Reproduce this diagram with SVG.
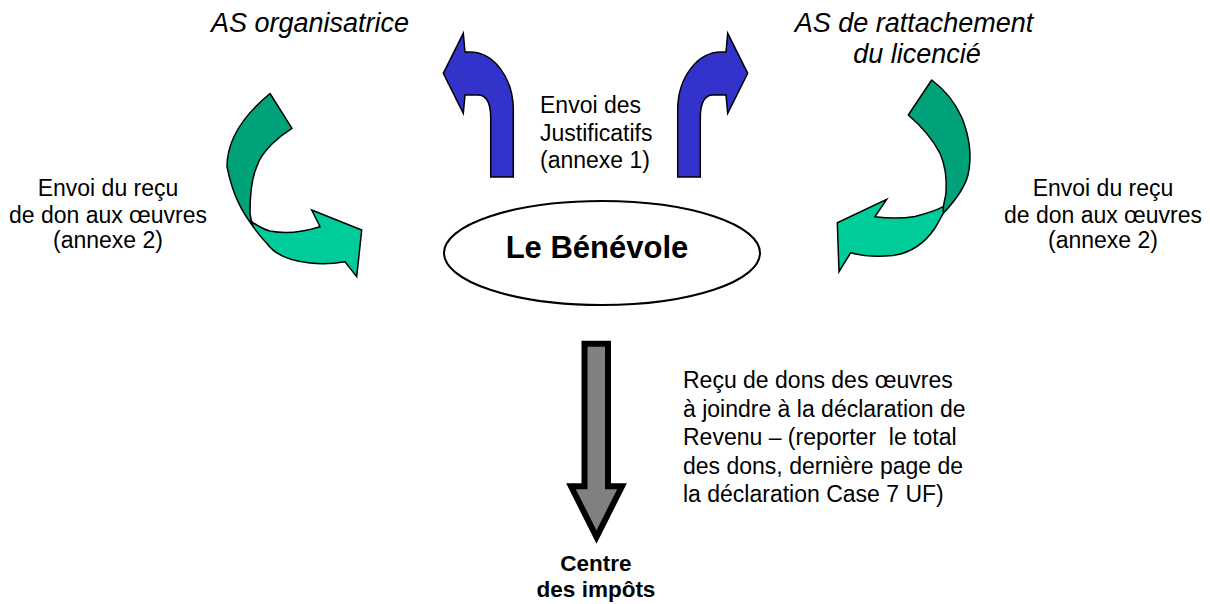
<svg xmlns="http://www.w3.org/2000/svg" width="1210" height="604" viewBox="0 0 1210 604">
<style>
.t{font-family:"Liberation Sans",Arial,sans-serif;font-size:23px;fill:#000}
.it{font-family:"Liberation Sans",Arial,sans-serif;font-size:27px;font-style:italic;fill:#000}
.b{font-family:"Liberation Sans",Arial,sans-serif;font-weight:bold;fill:#000}
.blue{fill:#3333cc;stroke:#000;stroke-width:1.5;stroke-linejoin:miter}
.g1{fill:#00a27a;stroke:#000;stroke-width:1.5;stroke-linejoin:round}
.g2{fill:#00cc99;stroke:#000;stroke-width:1.5;stroke-linejoin:miter}
</style>
<rect width="1210" height="604" fill="#fff"/>
<g id="connectors">
  <path id="blue-left" class="blue" d="M513.3,177 L513.3,110 C513.3,77 493,52 470,52 L465,52 L463.3,33.3 L443.3,73.3 L463.3,113.3 L465,95 L478,95 C486,95 490.7,103 490.7,118 L490.7,177 Z"/>
  <path id="blue-right" class="blue" transform="translate(1191,0) scale(-1,1)" d="M513.3,177 L513.3,110 C513.3,77 493,52 470,52 L465,52 L463.3,33.3 L443.3,73.3 L463.3,113.3 L465,95 L478,95 C486,95 490.7,103 490.7,118 L490.7,177 Z"/>
  <g id="green-left">
    <path class="g1" d="M270,93.5 L292,128.3 C281,135 262,150 256.7,166.7 C251,180 250,195 250,213.3 L251.7,222.5 L253.3,226.7 C243,213 233,197 227,166.7 C227,146 238,120 270,93.5 Z"/>
    <path class="g2" d="M251.7,221.7 C258,226 262,229 270,231 C285,234 300,233 320,226.7 L311.7,210 L361.7,230 L356.7,276.7 L345,261.7 C332,264 320,264 310,263 C290,261 275,255 266.7,243.3 C260,236 256,231 253.3,226.7 Z"/>
  </g>
  <g id="green-right">
    <path class="g1" d="M931.7,80 L908.3,115 C920,125 932,138 940,153.3 C946,167 947,180 946,193.3 L943.3,206.7 L943.3,213.3 C953,203 964,190 968,175 C972,157 970,138 962,118 C955,102 945,90 931.7,80 Z"/>
    <path class="g2" d="M943.3,206.7 C935,211 925,214 915,216.5 C900,219 888,218.5 875,216.7 L886.7,199.3 L837.3,222.7 L839,271.7 L850.7,252.7 C862,256 878,257 893,255.5 C910,253 925,243 935,228 L943.3,213.3 Z"/>
  </g>
  <path id="gray-down" d="M584.5,343.7 L608,343.7 L608,486.3 L622,486.3 L596.5,537 L571,486.3 L584.5,486.3 Z" fill="#808080" stroke="#000" stroke-width="6" stroke-linejoin="miter"/>
</g>
<g id="node-benevole">
  <ellipse cx="602" cy="253" rx="158" ry="52" fill="#fff" stroke="#000" stroke-width="2"/>
  <text class="b" x="597" y="258" font-size="31" text-anchor="middle">Le Bénévole</text>
</g>
<g id="node-as-organisatrice">
  <text class="it" x="310" y="32" text-anchor="middle">AS organisatrice</text>
</g>
<g id="node-as-rattachement">
  <text class="it" x="914" y="32" text-anchor="middle">AS de rattachement</text>
  <text class="it" x="917" y="63" text-anchor="middle">du licencié</text>
</g>
<g id="node-centre-impots">
  <text class="b" x="596" y="571" font-size="22.5" text-anchor="middle">Centre</text>
  <text class="b" x="596" y="597" font-size="22.5" text-anchor="middle">des impôts</text>
</g>
<g id="labels">
  <text class="t" x="108" text-anchor="middle"><tspan x="108" y="196">Envoi du reçu</tspan><tspan x="108" y="222.5">de don aux œuvres</tspan><tspan x="108" y="248.3">(annexe 2)</tspan></text>
  <text class="t" x="1103" text-anchor="middle"><tspan x="1103" y="196">Envoi du reçu</tspan><tspan x="1103" y="222.5">de don aux œuvres</tspan><tspan x="1103" y="248.3">(annexe 2)</tspan></text>
  <text class="t"><tspan x="540" y="112.7">Envoi des</tspan><tspan x="540" y="140.7">Justificatifs</tspan><tspan x="540" y="168.3">(annexe 1)</tspan></text>
  <text class="t" xml:space="preserve"><tspan x="683" y="388">Reçu de dons des œuvres</tspan><tspan x="683" y="416.5">à joindre à la déclaration de</tspan><tspan x="683" y="445">Revenu – (reporter  le total</tspan><tspan x="683" y="473.5">des dons, dernière page de</tspan><tspan x="683" y="502">la déclaration Case 7 UF)</tspan></text>
</g>
</svg>
